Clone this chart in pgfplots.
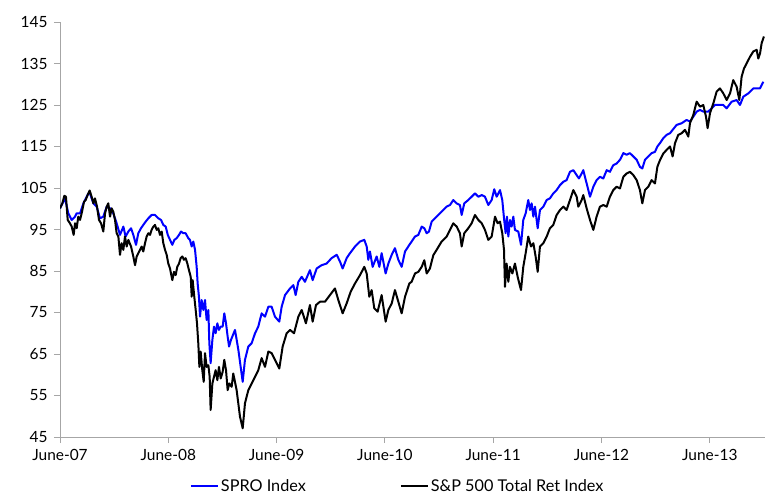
\documentclass[border=0pt]{standalone}
\usepackage{pgfplots}
\pgfplotsset{compat=1.18}
\usepackage{fontspec}
\setmainfont{Lato}
\definecolor{axisgray}{RGB}{166,166,166}
\definecolor{sproblue}{RGB}{0,0,255}
\begin{document}
\begin{tikzpicture}
\path[use as bounding box] (-60bp,-66bp) rectangle (715bp,437bp);
\begin{axis}[
  at={(0,0)}, anchor=south west,
  scale only axis, width=705bp, height=415bp,
  xmin=0, xmax=6.51, ymin=45, ymax=145,
  axis lines=left,
  axis line style={-, draw=axisgray, line width=0.8bp},
  tick style={draw=axisgray, line width=0.8bp},
  tick align=outside, major tick length=6bp,
  xtick={0,1,2,3,4,5,6},
  xticklabels={June-07,June-08,June-09,June-10,June-11,June-12,June-13},
  ytick={45,55,65,75,85,95,105,115,125,135,145},
  /pgf/number format/assume math mode=true,
  ticklabel style={font=\fontsize{15.5}{18}\selectfont, text=black},
  xticklabel style={yshift=-3bp},
  yticklabel style={xshift=-3bp},
  legend columns=2,
  legend style={draw=none, fill=none, at={(0.479,0)}, anchor=center, yshift=-49bp,
    font=\fontsize{16.3}{19}\selectfont, inner sep=0pt,
    /tikz/every even column/.append style={column sep=92bp},
    nodes={inner sep=2bp}},
  legend image code/.code={\draw[#1] (0bp,0bp) -- (27bp,0bp);},
  line join=round,
]
\addplot[sproblue, line width=2bp] coordinates {
(0,100.1) (0.046,102.5) (0.077,98.9) (0.108,97.3) (0.139,98.1) (0.154,98.9) (0.185,98.9) (0.216,101.3)
(0.262,103.7) (0.277,103.7) (0.308,101.3) (0.339,100.5) (0.369,97.7) (0.400,98.1) (0.431,100.5) (0.462,100.1)
(0.492,98.9) (0.523,96.5) (0.554,93.7) (0.585,95.7) (0.606,93.3) (0.631,94.5) (0.656,95.3) (0.677,93.7)
(0.702,91.3) (0.723,94.1) (0.748,95.3) (0.769,96.1) (0.791,96.9) (0.816,97.7) (0.846,98.5) (0.877,98.5)
(0.908,97.7) (0.933,97.3) (0.954,96.1) (0.976,95.7) (0.995,93.7) (1.016,92.5) (1.037,91.3) (1.056,92.5)
(1.077,92.9) (1.099,93.7) (1.117,94.5) (1.139,94.1) (1.160,94.1) (1.185,92.9) (1.200,92.5) (1.216,90.9)
(1.231,92.1) (1.247,90.1) (1.262,86.0) (1.271,82.0) (1.283,78.8) (1.293,74.0) (1.308,78.0) (1.324,75.6)
(1.339,78.0) (1.354,73.2) (1.370,75.6) (1.379,67.6) (1.391,62.8) (1.407,68.4) (1.422,71.6) (1.437,70.0)
(1.453,72.4) (1.468,70.8) (1.484,71.6) (1.502,71.6) (1.517,74.8) (1.533,72.4) (1.548,69.2) (1.561,66.8)
(1.579,68.4) (1.616,70.8) (1.647,66.0) (1.687,58.3) (1.708,63.6) (1.739,66.8) (1.770,67.6) (1.801,70.0)
(1.831,71.6) (1.862,74.8) (1.893,74.0) (1.924,76.4) (1.954,76.4) (1.985,74.0) (2.025,72.8) (2.047,76.4)
(2.078,79.2) (2.124,80.8) (2.155,81.6) (2.176,79.2) (2.201,82.4) (2.232,83.6) (2.262,82.4) (2.308,85.2)
(2.333,82.8) (2.370,85.6) (2.416,86.4) (2.462,86.8) (2.508,88.1) (2.555,88.9) (2.585,87.3) (2.610,85.6)
(2.647,88.1) (2.678,89.3) (2.724,90.9) (2.770,92.1) (2.810,92.5) (2.832,90.9) (2.847,87.7) (2.862,89.7)
(2.887,86.0) (2.924,88.5) (2.949,86.0) (2.970,89.3) (3.007,84.4) (3.032,86.8) (3.063,88.9) (3.093,90.5)
(3.124,87.7) (3.155,86.0) (3.186,89.7) (3.226,91.3) (3.247,92.1) (3.278,93.3) (3.309,93.7) (3.340,95.7)
(3.364,95.3) (3.386,94.1) (3.407,94.5) (3.432,96.9) (3.478,98.1) (3.524,99.3) (3.570,100.5) (3.601,100.9)
(3.632,102.1) (3.663,101.3) (3.693,100.9) (3.709,98.5) (3.733,101.3) (3.770,102.1) (3.801,102.9) (3.832,103.7)
(3.863,102.9) (3.894,103.3) (3.924,102.9) (3.955,100.9) (3.986,102.1) (4.010,104.7) (4.032,102.9) (4.063,104.5)
(4.084,102.1) (4.100,97.7) (4.115,94.1) (4.127,98.1) (4.140,93.3) (4.155,97.3) (4.170,95.7) (4.186,98.1)
(4.201,94.9) (4.232,94.5) (4.257,91.3) (4.278,97.3) (4.300,98.9) (4.324,102.1) (4.340,99.7) (4.355,101.3)
(4.371,98.1) (4.386,100.5) (4.411,95.3) (4.432,99.7) (4.463,100.5) (4.494,102.1) (4.524,102.5) (4.555,103.7)
(4.586,104.5) (4.617,105.7) (4.648,106.5) (4.678,106.9) (4.709,108.9) (4.740,109.3) (4.771,108.1) (4.792,107.3)
(4.817,108.5) (4.832,109.3) (4.863,106.1) (4.894,102.9) (4.925,105.3) (4.955,106.9) (4.986,107.7) (5.017,107.3)
(5.048,109.3) (5.078,108.9) (5.109,110.5) (5.140,110.9) (5.171,111.8) (5.202,113.4) (5.232,113.0) (5.263,113.4)
(5.294,112.6) (5.325,111.8) (5.355,110.1) (5.377,109.7) (5.402,111.8) (5.432,112.6) (5.463,113.4) (5.494,113.7)
(5.516,115.0) (5.540,115.8) (5.571,117.0) (5.602,117.8) (5.633,118.2) (5.657,119.0) (5.694,120.2) (5.740,120.6)
(5.786,121.4) (5.817,121.0) (5.848,122.2) (5.879,123.4) (5.910,123.8) (5.940,123.4) (5.986,123.4) (6.017,124.2)
(6.048,125.0) (6.094,125.0) (6.125,125.0) (6.156,124.2) (6.202,125.8) (6.248,126.2) (6.279,125.0) (6.310,127.0)
(6.356,127.8) (6.402,129.0) (6.433,129.0) (6.464,129.0) (6.494,130.6)
};
\addlegendentry{SPRO Index}
\addplot[black, line width=2bp] coordinates {
(0,100.1) (0.0215,101.3) (0.040,103.1) (0.055,102.9) (0.071,97.3) (0.092,96.5) (0.108,95.7) (0.126,93.7)
(0.139,96.5) (0.154,95.3) (0.169,98.1) (0.185,97.3) (0.200,98.9) (0.222,101.7) (0.237,102.1) (0.255,103.3)
(0.274,104.4) (0.292,102.9) (0.308,101.3) (0.323,102.5) (0.342,100.5) (0.360,97.3) (0.379,96.5) (0.400,94.5)
(0.416,98.9) (0.431,100.5) (0.446,101.3) (0.462,98.1) (0.477,100.1) (0.492,99.3) (0.508,97.3) (0.523,94.1)
(0.539,93.3) (0.554,88.9) (0.569,91.7) (0.585,90.1) (0.600,93.3) (0.616,90.9) (0.631,92.5) (0.656,90.9)
(0.677,88.5) (0.693,86.4) (0.708,88.5) (0.723,89.3) (0.739,90.1) (0.754,90.9) (0.769,89.7) (0.785,91.7)
(0.800,93.3) (0.816,94.1) (0.831,93.7) (0.846,94.9) (0.862,95.7) (0.877,96.1) (0.893,94.9) (0.908,95.3)
(0.923,93.7) (0.939,94.5) (0.954,91.7) (0.970,90.1) (0.985,88.9) (1.000,86.8) (1.016,85.6) (1.037,82.8)
(1.053,84.8) (1.068,84.0) (1.083,86.0) (1.099,86.8) (1.114,88.1) (1.130,88.5) (1.145,87.7) (1.160,88.1)
(1.176,86.8) (1.191,85.2) (1.207,83.6) (1.216,78.8) (1.225,82.8) (1.240,78.8) (1.253,75.6) (1.265,72.4)
(1.277,67.6) (1.287,61.9) (1.299,65.6) (1.314,61.1) (1.327,58.3) (1.339,65.2) (1.354,61.9) (1.370,62.3)
(1.382,59.5) (1.391,51.5) (1.407,57.9) (1.422,59.5) (1.437,61.1) (1.453,58.7) (1.468,61.9) (1.484,59.1)
(1.502,60.7) (1.517,63.6) (1.533,61.1) (1.548,56.3) (1.564,57.9) (1.585,57.1) (1.600,60.3) (1.631,56.3)
(1.662,49.9) (1.687,47.1) (1.708,53.1) (1.739,56.3) (1.770,57.9) (1.801,59.5) (1.831,61.1) (1.862,64.0)
(1.893,61.9) (1.924,65.6) (1.954,65.2) (1.985,63.6) (2.025,61.5) (2.056,66.8) (2.093,70.0) (2.124,70.8)
(2.161,70.0) (2.201,74.0) (2.232,75.6) (2.271,72.4) (2.308,76.8) (2.333,72.8) (2.364,76.8) (2.401,77.6)
(2.447,77.6) (2.493,79.2) (2.539,80.8) (2.570,78.0) (2.610,74.8) (2.647,77.2) (2.684,80.0) (2.724,82.0)
(2.770,84.0) (2.810,86.0) (2.832,84.4) (2.856,78.8) (2.878,80.4) (2.902,76.0) (2.933,75.2) (2.970,79.2)
(3.007,72.8) (3.032,75.6) (3.063,77.2) (3.093,80.4) (3.124,77.6) (3.155,74.8) (3.186,78.8) (3.226,82.0)
(3.247,82.4) (3.278,84.4) (3.309,84.8) (3.340,86.0) (3.364,87.6) (3.386,84.4) (3.416,85.6) (3.447,88.8)
(3.478,90.1) (3.524,92.1) (3.570,93.3) (3.601,94.9) (3.632,96.5) (3.663,95.7) (3.693,94.1) (3.709,90.9)
(3.733,94.1) (3.770,95.3) (3.801,96.5) (3.832,98.5) (3.863,97.3) (3.894,96.5) (3.924,94.9) (3.955,92.5)
(3.986,93.3) (4.017,98.1) (4.041,96.5) (4.063,96.9) (4.084,94.1) (4.100,90.1) (4.109,81.2) (4.124,86.8)
(4.140,82.4) (4.155,86.0) (4.177,84.4) (4.201,86.8) (4.226,83.6) (4.241,82.0) (4.257,80.4) (4.278,86.0)
(4.300,89.3) (4.324,93.3) (4.349,90.9) (4.371,91.7) (4.392,88.5) (4.411,84.8) (4.432,90.9) (4.463,91.7)
(4.494,93.3) (4.524,95.3) (4.555,96.1) (4.586,98.5) (4.617,99.7) (4.648,100.5) (4.678,99.7) (4.709,102.1)
(4.740,104.5) (4.771,102.9) (4.786,100.5) (4.817,102.1) (4.832,103.3) (4.863,100.1) (4.894,97.3) (4.925,94.9)
(4.955,98.1) (4.986,100.5) (5.017,100.9) (5.048,100.5) (5.078,102.9) (5.109,104.5) (5.140,105.3) (5.171,104.9)
(5.202,107.7) (5.232,108.5) (5.263,108.9) (5.294,108.1) (5.325,106.9) (5.355,104.5) (5.377,101.3) (5.402,104.5)
(5.432,105.3) (5.463,106.9) (5.494,106.1) (5.516,110.1) (5.540,111.7) (5.571,113.3) (5.602,114.2) (5.633,115.0)
(5.657,112.6) (5.679,115.8) (5.709,117.8) (5.740,118.2) (5.771,119.0) (5.802,117.4) (5.817,120.6) (5.848,122.6)
(5.879,125.8) (5.910,124.6) (5.940,125.0) (5.965,122.2) (5.980,119.4) (6.002,123.0) (6.033,125.4) (6.063,128.2)
(6.094,129.0) (6.125,127.8) (6.156,126.2) (6.187,127.8) (6.217,131.0) (6.248,129.4) (6.273,126.2) (6.294,131.8)
(6.316,133.8) (6.340,135.0) (6.371,136.6) (6.402,137.9) (6.433,138.3) (6.448,136.2) (6.464,137.4) (6.479,139.9)
(6.500,141.5)
};
\addlegendentry{S\&P 500 Total Ret Index}
\end{axis}
\end{tikzpicture}
\end{document}
